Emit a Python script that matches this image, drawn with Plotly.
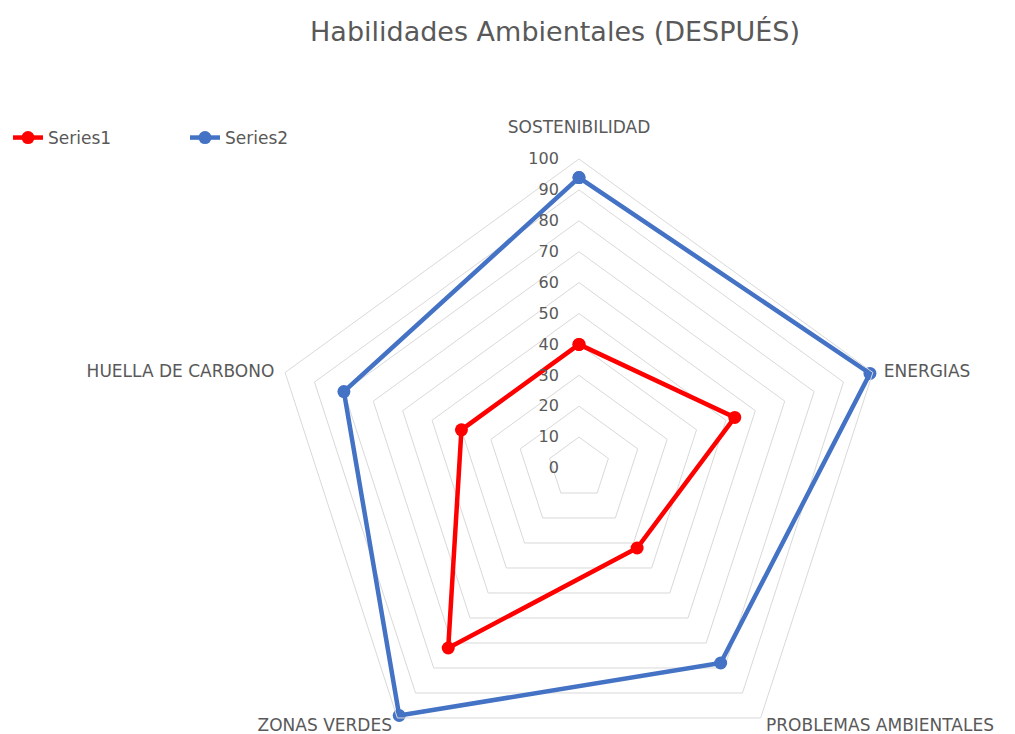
import plotly.graph_objects as go

categories = ["SOSTENIBILIDAD", "ENERGIAS", "PROBLEMAS AMBIENTALES", "ZONAS VERDES", "HUELLA DE CARBONO"]
series1 = [40, 53, 32, 72, 40]
series2 = [94, 99, 78, 99, 80]
series_names = ["Series1", "Series2"]
radial_ticks = [0, 10, 20, 30, 40, 50, 60, 70, 80, 90, 100]

# page has an 8px body margin, so figure coords = page coords - 8
W, H = 1015, 780
cx, cy, R = 571, 460, 309  # px, from figure top-left

FONT = "'DejaVu Sans', Lato, sans-serif"
GRAY = "#595959"
NB = "\u00a0"

fig = go.Figure()
for name, vals, color in [(series_names[0], series1, "#FF0000"), (series_names[1], series2, "#4472C4")]:
    fig.add_trace(go.Scatterpolar(
        r=vals + vals[:1],
        theta=categories + categories[:1],
        mode="lines+markers",
        name=name,
        line=dict(color=color, width=4.5),
        marker=dict(color=color, size=13),
    ))

# category labels placed at the outer ring of each axis
label_r = radial_ticks[-1]
label_text = [
    categories[0] + "<br> ",
    NB * 2 + categories[1],
    NB + categories[2],
    categories[3] + NB,
    categories[4] + NB * 2,
]
label_pos = ["top center", "middle right", "bottom right", "bottom left", "middle left"]
fig.add_trace(go.Scatterpolar(
    r=[label_r] * len(categories),
    theta=categories,
    mode="text",
    text=label_text,
    textposition=label_pos,
    textfont=dict(size=17, color=GRAY, family=FONT),
    showlegend=False,
    hoverinfo="skip",
    cliponaxis=False,
))

fig.update_layout(
    width=W, height=H,
    margin=dict(l=0, r=0, t=0, b=0),
    paper_bgcolor="white",
    plot_bgcolor="white",
    font=dict(family=FONT, color=GRAY),
    title=dict(text="Habilidades Ambientales (DESPUÉS)", x=547 / W, xanchor="center",
               y=1 - 24 / H, yanchor="middle", font=dict(size=27, color=GRAY, family=FONT)),
    legend=dict(orientation="h", x=0, xanchor="left", y=1 - 130 / H, yanchor="middle",
                font=dict(size=17, color=GRAY), entrywidth=132, entrywidthmode="pixels"),
    polar=dict(
        domain=dict(x=[(cx - R) / W, (cx + R) / W], y=[(H - cy - R) / H, (H - cy + R) / H]),
        gridshape="linear",
        bgcolor="white",
        angularaxis=dict(rotation=90, direction="clockwise", showgrid=False, showline=True,
                         linecolor="#D9D9D9", linewidth=1, ticks="", showticklabels=False),
        radialaxis=dict(range=[0, 100], tickvals=radial_ticks, showline=False,
                        ticks="outside", ticklen=14, tickcolor="rgba(0,0,0,0)",
                        gridcolor="#D9D9D9", gridwidth=1, angle=90, tickangle=90,
                        side="counterclockwise", tickfont=dict(size=16, color=GRAY)),
    ),
)

fig.write_html("out.html")
